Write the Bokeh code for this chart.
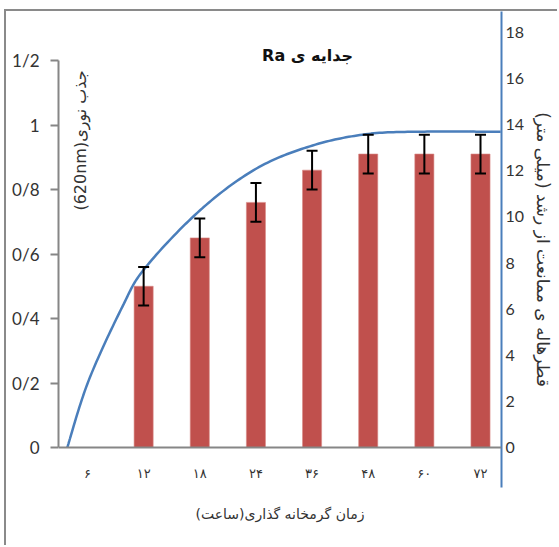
import math
from bokeh.plotting import figure
from bokeh.models import (Range1d, LinearAxis, FixedTicker, Span, Label, Whisker,
                          ColumnDataSource, TeeHead)
from bokeh.embed import file_html
from bokeh.resources import INLINE

# ---------------- data ----------------
hours_fa = ["۶", "۱۲", "۱۸", "۲۴", "۳۶", "۴۸", "۶۰", "۷۲"]
absorbance = [None, 0.50, 0.65, 0.76, 0.86, 0.91, 0.91, 0.91]
absorbance_err = [None, 0.06, 0.06, 0.06, 0.06, 0.06, 0.06, 0.06]
left_ticks = [0, 0.2, 0.4, 0.6, 0.8, 1, 1.2]
left_tick_labels = ["0", "0/2", "0/4", "0/6", "0/8", "1", "1/2"]
right_ticks = [0, 2, 4, 6, 8, 10, 12, 14, 16, 18]
# inhibition-zone curve: position on the category axis (slot units) and diameter (mm)
curve_pos = [-0.36, 0.02, 0.62, 1.03, 2.01, 3.01, 4.01, 5.0, 6.0, 7.0, 7.36]
curve_mm = [0.0, 2.9, 6.1, 7.8, 10.3, 12.1, 13.1, 13.6, 13.7, 13.7, 13.7]

title_text = "\u202bجدایه ی Ra\u202c"
left_title = "\u202bجذب نوری(620nm)\u202c"
right_title = "\u202bقطرهاله ی ممانعت از رشد (میلی متر)\u202c"
x_title = "\u202bزمان گرمخانه گذاری(ساعت)\u202c"

# ---------------- layout (window pixels) ----------------
MARGIN_L, MARGIN_T, BORDER = 4, 9, 2
CX, CY = MARGIN_L + BORDER, MARGIN_T + BORDER   # canvas origin in the window
W, H = 553, 536                                  # canvas size (border is outside)

FL, FR, FT, FB = 58, 501, CY, 487     # frame
Y0 = 447                              # zero line
SX = (480 - 87) / 7.0                 # px per category slot
X0PX = 87
SY = (447 - 60) / 1.2                 # px per absorbance unit
SR = (447 - 32) / 18.0                # px per mm

x_start = -(X0PX - FL) / SX
x_end = x_start + (FR - FL) / SX
y_start = -(FB - Y0) / SY
y_end = (Y0 - FT) / SY
r_start = -(FB - Y0) / SR
r_end = (Y0 - FT) / SR


def xd(px):
    return x_start + (px - FL) / SX


def yd(py):
    return (Y0 - py) / SY


p = figure(width=W, height=H, output_backend="svg", toolbar_location=None,
           x_range=Range1d(x_start, x_end), y_range=Range1d(y_start, y_end),
           min_border_left=FL - CX, min_border_top=FT - CY,
           min_border_right=(CX + W) - FR, min_border_bottom=(CY + H) - FB,
           x_axis_location="below")
p.extra_y_ranges = {"r": Range1d(r_start, r_end)}
p.grid.visible = False
p.outline_line_color = None
p.background_fill_color = "white"
p.border_fill_color = "white"
p.styles = {"border-top": f"{BORDER}px solid #8a8a8a", "border-left": f"{BORDER}px solid #8a8a8a",
            "margin-left": f"{MARGIN_L}px", "margin-top": f"{MARGIN_T}px"}

TICK_FONT = "Lato"
PERSIAN_FONT = "DejaVu Sans"
TEXT_COLOR = "#333333"

# left axis
ya = p.yaxis[0]
ya.ticker = FixedTicker(ticks=left_ticks)
ya.major_label_overrides = {t: l for t, l in zip(left_ticks, left_tick_labels)}
ya.bounds = (left_ticks[0], left_ticks[-1])
ya.axis_line_color = "#868686"
ya.axis_line_width = 2
ya.major_tick_line_color = "#868686"
ya.major_tick_line_width = 2
ya.major_tick_out = 8
ya.major_tick_in = 0
ya.minor_tick_line_color = None
ya.major_label_standoff = 11
ya.major_label_text_font = TICK_FONT
ya.major_label_text_font_size = "17px"
ya.major_label_text_color = TEXT_COLOR

# bottom axis (labels + title)
xa = p.xaxis[0]
slots = list(range(len(hours_fa)))
xa.ticker = FixedTicker(ticks=slots)
xa.major_label_overrides = {i: h for i, h in zip(slots, hours_fa)}
xa.axis_line_color = None
xa.major_tick_line_color = None
xa.minor_tick_line_color = None
xa.major_tick_out = 0
xa.major_tick_in = 0
xa.minor_tick_out = 0
xa.minor_tick_in = 0
xa.major_label_standoff = -22
xa.major_label_text_font = PERSIAN_FONT
xa.major_label_text_font_size = "13px"
xa.major_label_text_color = TEXT_COLOR
xa.axis_label = x_title
xa.axis_label_standoff = 22
xa.axis_label_text_font = PERSIAN_FONT
xa.axis_label_text_font_size = "14px"
xa.axis_label_text_font_style = "normal"
xa.axis_label_text_color = TEXT_COLOR

# right axis
ra = LinearAxis(y_range_name="r", ticker=FixedTicker(ticks=right_ticks))
ra.axis_line_color = "#4a7ebb"
ra.axis_line_width = 2
ra.major_tick_out = 0
ra.major_tick_in = 0
ra.minor_tick_out = 0
ra.minor_tick_in = 0
ra.major_tick_line_color = None
ra.minor_tick_line_color = None
ra.major_label_standoff = 4
ra.major_label_text_font = TICK_FONT
ra.major_label_text_font_size = "16px"
ra.major_label_text_color = TEXT_COLOR
ra.axis_label = right_title
ra.axis_label_standoff = 6
ra.axis_label_text_font = PERSIAN_FONT
ra.axis_label_text_font_size = "17px"
ra.axis_label_text_font_style = "normal"
ra.axis_label_text_color = TEXT_COLOR
p.add_layout(ra, "right")

# zero baseline
p.add_layout(Span(location=0, dimension="width", line_color="#868686", line_width=2))

# bars + error bars
bx = [i for i, v in zip(slots, absorbance) if v is not None]
bv = [v for v in absorbance if v is not None]
be = [e for e in absorbance_err if e is not None]
src = ColumnDataSource(dict(x=bx, top=bv,
                            upper=[v + e for v, e in zip(bv, be)],
                            lower=[v - e for v, e in zip(bv, be)]))
p.vbar(x="x", top="top", width=0.34, bottom=0, source=src,
       fill_color="#c0504d", line_color="#d98987", line_width=0.6)
p.add_layout(Whisker(source=src, base="x", upper="upper", lower="lower", level="annotation",
                     line_color="black", line_width=2,
                     upper_head=TeeHead(size=11, line_width=2, line_color="black"),
                     lower_head=TeeHead(size=11, line_width=2, line_color="black")))


# smooth curve (Catmull-Rom through the read points)
def catmull_rom(xs, ys, n=20):
    px = [xs[0]] + list(xs) + [xs[-1]]
    py = [ys[0]] + list(ys) + [ys[-1]]
    ox, oy = [], []
    for i in range(1, len(px) - 2):
        for k in range(n):
            t = k / n
            t2, t3 = t * t, t * t * t

            def cr(a, b, c, d):
                return 0.5 * ((2 * b) + (-a + c) * t + (2 * a - 5 * b + 4 * c - d) * t2
                              + (-a + 3 * b - 3 * c + d) * t3)
            ox.append(cr(px[i - 1], px[i], px[i + 1], px[i + 2]))
            oy.append(cr(py[i - 1], py[i], py[i + 1], py[i + 2]))
    ox.append(xs[-1])
    oy.append(ys[-1])
    return ox, oy


cx, cy = catmull_rom(curve_pos, curve_mm)
p.line(cx, cy, y_range_name="r", line_color="#4a7ebb", line_width=2.5)

# texts inside the plot area
p.add_layout(Label(x=xd(307), y=yd(55), text=title_text, text_align="center",
                   text_baseline="middle", text_font=PERSIAN_FONT, text_font_size="16px",
                   text_font_style="bold", text_color="#111111"))
p.add_layout(Label(x=xd(80), y=yd(140), text=left_title, angle=math.pi / 2,
                   text_align="center", text_baseline="middle", text_font=PERSIAN_FONT,
                   text_font_size="16px", text_color=TEXT_COLOR))

open("out.html", "w").write(file_html(p, INLINE))
